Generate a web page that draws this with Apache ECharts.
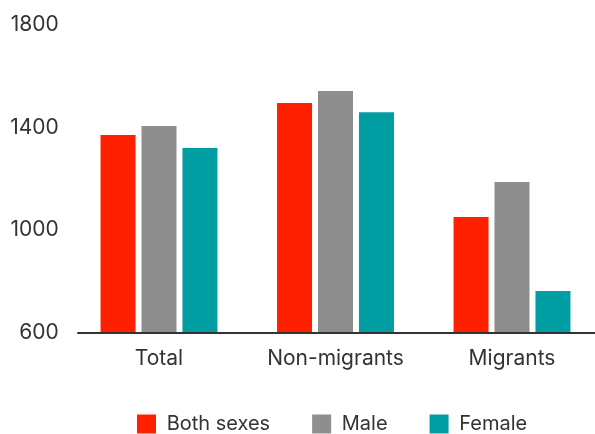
<!DOCTYPE html>
<html>
<head>
<meta charset="utf-8">
<script src="https://cdn.jsdelivr.net/npm/echarts@6/dist/echarts.min.js"></script>
<style>html,body{margin:0;padding:0;background:#fff}#c{width:595px;height:434px}</style>
</head>
<body>
<div id="c"></div>
<script>
const categories = ['Total', 'Non-migrants', 'Migrants'];
const seriesNames = ['Both sexes', 'Male', 'Female'];
const bothSexes = [1371, 1496, 1051];
const male = [1406, 1542, 1187];
const female = [1320, 1460, 762];
const yTicks = [600, 1000, 1400, 1800];
const colors = ['#ff2000', '#8e8e8e', '#009da3'];

const font = 'Inter';
const chart = echarts.init(document.getElementById('c'), null, {renderer: 'canvas'});
const mk = (name, data, color) => ({
  name, type: 'bar', data, barWidth: 35, barGap: '17%',
  itemStyle: {color}, emphasis: {disabled: true}, z: 1
});
chart.setOption({
  animation: false,
  textStyle: {fontFamily: font},
  grid: [
    {left: 70.75, width: 529.5, top: 25, bottom: 101.5, containLabel: false, outerBoundsMode: 'none'},
    {left: 78, right: 0, top: 25, bottom: 101.5, containLabel: false, outerBoundsMode: 'none'}
  ],
  legend: {
    left: 137, top: 414, itemWidth: 19, itemHeight: 19, itemGap: 42, padding: 0,
    icon: 'rect',
    formatter: n => ' ' + n,
    textStyle: {fontFamily: font, fontSize: 20, lineHeight: 19, color: '#333'},
    data: seriesNames
  },
  xAxis: [
    {
      type: 'category', data: categories, gridIndex: 0,
      axisLine: {show: false},
      axisTick: {show: false},
      axisLabel: {fontFamily: font, fontSize: 21, color: '#333', margin: 16, interval: 0, hideOverlap: false}
    },
    {
      type: 'category', data: categories, gridIndex: 1, z: 5,
      axisLine: {lineStyle: {color: '#333', width: 2}},
      axisTick: {show: false}, axisLabel: {show: false}
    }
  ],
  yAxis: [
    {
      type: 'value', min: yTicks[0], max: yTicks[yTicks.length - 1], interval: 400, gridIndex: 0,
      axisLine: {show: false}, axisTick: {show: false}, splitLine: {show: false},
      axisLabel: {fontFamily: font, fontSize: 21, color: '#333', margin: 12, formatter: v => String(v)}
    },
    {
      type: 'value', min: yTicks[0], max: yTicks[yTicks.length - 1], gridIndex: 1, show: false
    }
  ],
  series: [mk(seriesNames[0], bothSexes, colors[0]), mk(seriesNames[1], male, colors[1]), mk(seriesNames[2], female, colors[2])]
});
</script>
</body>
</html>
